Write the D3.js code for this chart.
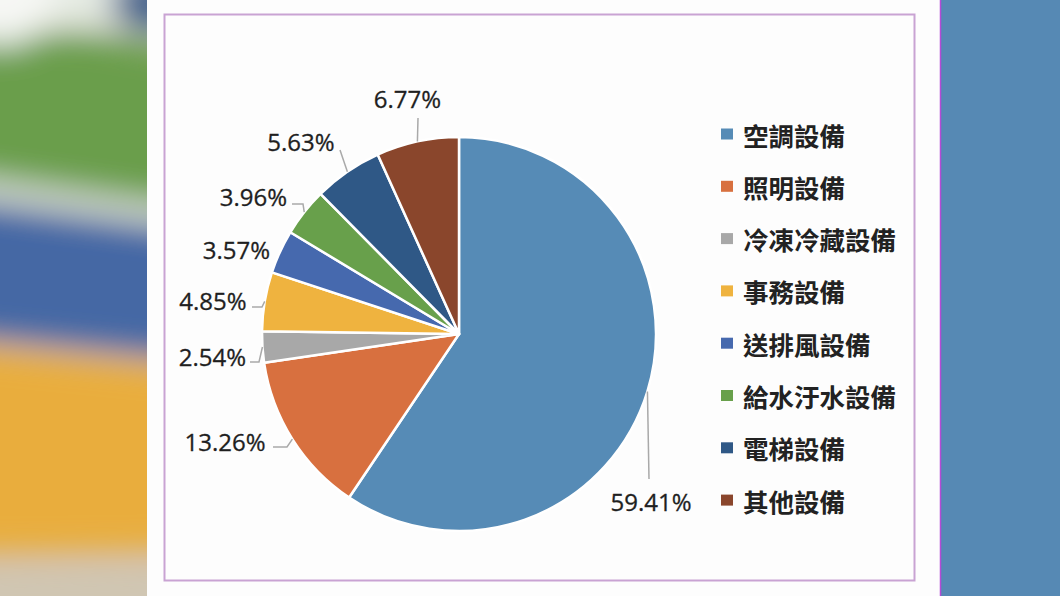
<!DOCTYPE html>
<html><head><meta charset="utf-8">
<script src="https://cdn.jsdelivr.net/npm/d3@7/dist/d3.min.js"></script>
<style>html,body{margin:0;padding:0;background:#fff;}svg{display:block;}</style>
</head><body>
<svg id="c" width="1060" height="596"></svg>
<script>
// ---- data ----
const categories = ['空調設備','照明設備','冷凍冷藏設備','事務設備','送排風設備','給水汙水設備','電梯設備','其他設備'];
const shares = [59.41, 13.26, 2.54, 4.85, 3.57, 3.96, 5.63, 6.77];
const labels = ['59.41%','13.26%','2.54%','4.85%','3.57%','3.96%','5.63%','6.77%'];

// ---- styles / layout ----
const colors = ['#568bb6','#d8703f','#a8a8a8','#efb33f','#4669ae','#68a04b','#2f5886','#8a462c'];
const labelOffsets = [[192,167],[-234,107],[-246.5,22],[-246,-34],[-222.5,-84.5],[-205.5,-138],[-158,-193],[-51.5,-235.5]];
const leaderPts = [[[190,145]],[[-172,113],[-186,113]],[[-200,28],[-209,28]],[[-197,-27],[-207,-27]],null,[[-156,-130],[-167,-130]],[[-119,-184]],[[-41,-216]]];

const svg = d3.select('#c');
const defs = svg.append('defs');
const blur = defs.append('filter').attr('id','bl').attr('filterUnits','userSpaceOnUse')
  .attr('x',-200).attr('y',-200).attr('width',600).attr('height',1000);
blur.append('feGaussianBlur').attr('stdDeviation',16);
defs.append('clipPath').attr('id','lc').append('rect').attr('x',0).attr('y',0).attr('width',147).attr('height',596);

// left blurred background
const lg = svg.append('g').attr('clip-path','url(#lc)');
lg.append('rect').attr('width',147).attr('height',596).attr('fill','#cfc6b4');
const bg = lg.append('g').attr('filter','url(#bl)');
const bands = [
  {c:'#e6ece4', pts:[[-60,-60],[220,-60],[220,30],[-60,25]]},
  {c:'#6a9e4b', pts:[[-60,35],[90,32],[220,55],[220,212],[-60,172]]},
  {c:'#dde5da', pts:[[-60,174],[220,214],[220,230],[-60,192]]},
  {c:'#4467a4', pts:[[-60,196],[220,234],[220,362],[-60,334]]},
  {c:'#e9ad3e', pts:[[-60,342],[220,370],[220,552],[-60,556]]},
  {c:'#d0c6b2', pts:[[-60,574],[220,570],[220,700],[-60,700]]}
];
bands.forEach(b=>bg.append('path').attr('d','M'+b.pts.map(p=>p.join(',')).join('L')+'Z').attr('fill',b.c));
bg.append('ellipse').attr('cx',150).attr('cy',0).attr('rx',40).attr('ry',30).attr('fill','#3d5f8c');
bg.append('ellipse').attr('cx',0).attr('cy',0).attr('rx',55).attr('ry',45).attr('fill','#f6f7f4');

// white panel + right blue panel
svg.append('rect').attr('x',147).attr('y',0).attr('width',793).attr('height',596).attr('fill','#fdfdfd');
svg.append('rect').attr('x',940).attr('y',0).attr('width',120).attr('height',596).attr('fill','#5689b4');
svg.append('line').attr('x1',940.5).attr('x2',940.5).attr('y1',0).attr('y2',596).attr('stroke','#b54ad6').attr('stroke-width',1.5);

// purple frame
svg.append('rect').attr('x',164.5).attr('y',14.5).attr('width',750).attr('height',566)
  .attr('fill','none').attr('stroke','#c9a3d3').attr('stroke-width',2);

// pie
const cx = 459, cy = 334, R = 197;
const g = svg.append('g').attr('transform',`translate(${cx},${cy})`);
const pie = d3.pie().sort(null).value(d=>d)(shares);
const arc = d3.arc().innerRadius(0).outerRadius(R);
const edge = d3.arc().innerRadius(R).outerRadius(R);
g.selectAll('path.s').data(pie).join('path').attr('class','s')
  .attr('d',arc).attr('fill',(d,i)=>colors[i]).attr('stroke','#fff').attr('stroke-width',2.5).attr('stroke-linejoin','round');

// leaders
const line = d3.line();
pie.forEach((d,i)=>{
  if(!leaderPts[i]) return;
  const p0 = edge.centroid(d);
  g.append('path').attr('d',line([p0,...leaderPts[i]])).attr('fill','none')
   .attr('stroke','#a9a9a9').attr('stroke-width',1.5);
});

// labels
g.selectAll('text.l').data(pie).join('text').attr('class','l')
  .attr('x',(d,i)=>labelOffsets[i][0]).attr('y',(d,i)=>labelOffsets[i][1])
  .attr('text-anchor','middle').attr('dominant-baseline','central')
  .attr('font-family','"Open Sans", sans-serif').attr('font-size',24).attr('fill','#1f1f1f')
  .attr('stroke','#1f1f1f').attr('stroke-width',0.3)
  .text((d,i)=>labels[i]);

// legend
const leg = svg.append('g').attr('transform','translate(721,134)');
const step = 52.3;
categories.forEach((c,i)=>{
  const row = leg.append('g').attr('transform',`translate(0,${i*step})`);
  row.append('rect').attr('x',0).attr('y',-5.5).attr('width',12).attr('height',11).attr('fill',colors[i]);
  row.append('text').attr('x',22).attr('y',0).attr('dominant-baseline','central')
    .attr('font-family','"Noto Sans CJK TC", sans-serif').attr('font-weight',700)
    .attr('font-size',25.5).attr('fill','#222').text(c);
});
</script>
</body></html>
